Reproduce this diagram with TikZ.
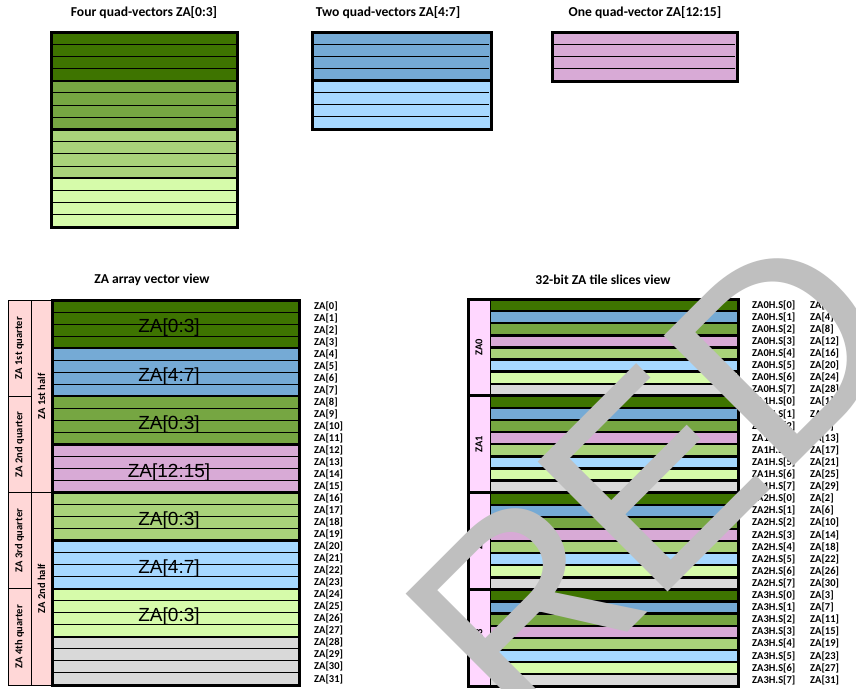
\documentclass[tikz,border=0pt]{standalone}
\usepackage{fontspec}
\setmainfont{Carlito}
\newfontfamily\bigfont{Liberation Sans}
\newfontfamily\wmfont{Liberation Sans}
\definecolor{cDG}{RGB}{62,116,0}
\definecolor{cBL}{RGB}{117,170,213}
\definecolor{cMG}{RGB}{118,166,66}
\definecolor{cPK}{RGB}{216,170,214}
\definecolor{cLG}{RGB}{169,210,122}
\definecolor{cLB}{RGB}{166,216,255}
\definecolor{cPG}{RGB}{214,251,170}
\definecolor{cGR}{RGB}{217,217,217}
\definecolor{cQP}{RGB}{255,215,215}
\definecolor{cTP}{RGB}{255,215,255}
\definecolor{cWM}{RGB}{191,191,191}
\tikzset{
  ttl/.style={font=\fontsize{13.6}{15}\selectfont\bfseries, inner sep=0pt},
  lbl/.style={font=\fontsize{10.5}{12}\selectfont\bfseries, inner sep=0pt, anchor=west},
  vlbl/.style={font=\fontsize{10.5}{12}\selectfont\bfseries, inner sep=0pt, rotate=90},
  biglbl/.style={font=\bigfont\fontsize{19}{22}\selectfont, inner sep=0pt},
  rowline/.style={line width=1pt},
  grpline/.style={line width=2.4pt},
  border/.style={line width=3pt},
  slsep/.style={line width=2.4pt},
  colline/.style={line width=1pt},
  wmark/.style={font=\wmfont\fontsize{267}{267}\selectfont, text=cWM, rotate=45, anchor=base west, inner sep=0pt},
}
\begin{document}
\begin{tikzpicture}[x=1pt,y=-1pt]
\useasboundingbox (0,0) rectangle (856,688);
\fill[white] (0,0) rectangle (856,688);

% ---------- titles top ----------
\node[ttl] (t1) at (144,13) {Four quad-vectors ZA[0:3]};
\node[ttl] (t2) at (388,13) {Two quad-vectors ZA[4:7]};
\node[ttl] (t3) at (645,13) {One quad-vector ZA[12:15]};

% ---------- box 1 ----------
\def\hA{12.1875}
\foreach \c [count=\i from 0] in {cDG,cMG,cLG,cPG}
  \fill[\c] (51,{32+\i*4*\hA}) rectangle (237,{32+(\i+1)*4*\hA});
\foreach \r in {1,2,3,5,6,7,9,10,11,13,14,15}
  \draw[rowline] (51,{32+\r*\hA}) -- (237,{32+\r*\hA});
\foreach \r in {4,8,12}
  \draw[grpline] (51,{32+\r*\hA}) -- (237,{32+\r*\hA});
\draw[border] (51,32) rectangle (237,227);

% ---------- box 2 ----------
\def\hB{12.125}
\foreach \c [count=\i from 0] in {cBL,cLB}
  \fill[\c] (312,{32+\i*4*\hB}) rectangle (491,{32+(\i+1)*4*\hB});
\foreach \r in {1,2,3,5,6,7}
  \draw[rowline] (312,{32+\r*\hB}) -- (489,{32+\r*\hB});
\draw[grpline] (312,{32+4*\hB}) -- (491,{32+4*\hB});
\draw[border] (312,32) rectangle (491,129);

% ---------- box 3 ----------
\def\hC{12.25}
\fill[cPK] (552,32) rectangle (737,81);
\foreach \r in {1,2,3}
  \draw[rowline] (552,{32+\r*\hC}) -- (735,{32+\r*\hC});
\draw[border] (552,32) rectangle (737,81);

% ---------- ZA array vector view ----------
\node[ttl] (t4) at (152,280) {ZA array vector view};
\def\hV{12.03}
\fill[cQP] (8,300) rectangle (52,685);
\draw[colline] (8,300) rectangle (31,685);
\draw[colline] (31,300) rectangle (52,685);
\foreach \q in {1,2,3}
  \draw[colline] (8,{300+\q*8*\hV}) -- (31,{300+\q*8*\hV});
\draw[colline] (31,{300+16*\hV}) -- (52,{300+16*\hV});
\node[vlbl] (q1) at (19.5,{300+4*\hV}) {ZA 1st quarter};
\node[vlbl] (q2) at (19.5,{300+12*\hV}) {ZA 2nd quarter};
\node[vlbl] (q3) at (19.5,{300+20*\hV}) {ZA 3rd quarter};
\node[vlbl] (q4) at (19.5,{300+28*\hV}) {ZA 4th quarter};
\node[vlbl] (h1) at (41.5,{300+8*\hV}) {ZA 1st half};
\node[vlbl] (h2) at (41.5,{300+24*\hV}) {ZA 2nd half};
\foreach \c [count=\i from 0] in {cDG,cBL,cMG,cPK,cLG,cLB,cPG,cGR}
  \fill[\c] (52,{300+\i*4*\hV}) rectangle (299,{300+(\i+1)*4*\hV});
\foreach \r in {1,...,31}{
  \pgfmathtruncatemacro{\m}{mod(\r,4)}
  \ifnum\m=0
    \draw[grpline] (52,{300+\r*\hV}) -- (299,{300+\r*\hV});
  \else
    \draw[rowline] (52,{300+\r*\hV}) -- (299,{300+\r*\hV});
  \fi
}
\draw[border] (52,300) rectangle (299,685);
\foreach \t [count=\i from 0] in {ZA[0:3],ZA[4:7],ZA[0:3],ZA[12:15],ZA[0:3],ZA[4:7],ZA[0:3]}
  \node[biglbl] (bl\i) at (169,{300+(\i*4+2)*\hV+4}) {\t};
\foreach \r in {0,...,31}
  \node[lbl] (va\r) at (314,{300+(\r+0.5)*\hV}) {ZA[\r]};

% ---------- 32-bit ZA tile slices view ----------
\node[ttl] (t5) at (603,280) {32-bit ZA tile slices view};
\def\hS{12.1}
\fill[cTP] (468,299) rectangle (490,686);
\foreach \k in {0,...,3}{
  \foreach \c [count=\i from 0] in {cDG,cBL,cMG,cPK,cLG,cLB,cPG,cGR}
    \fill[\c] (490,{299+(\k*8+\i)*\hS}) rectangle (738,{299+(\k*8+\i+1)*\hS});
}
\foreach \r in {1,...,31}
  \draw[slsep] (490,{299+\r*\hS}) -- (738,{299+\r*\hS});
\draw[colline] (490,299) -- (490,686);
\foreach \k in {1,2,3}
  \draw[border] (468,{299+\k*8*\hS}) -- (738,{299+\k*8*\hS});
\draw[border] (468,299) rectangle (738,686);
\foreach \k in {0,...,3}
  \node[vlbl] (za\k) at (479,{299+(\k*8+4)*\hS}) {ZA\k};
\foreach \k in {0,...,3}{
  \foreach \s in {0,...,7}{
    \pgfmathtruncatemacro{\n}{4*\s+\k}
    \node[lbl] (sa\k\s) at (752,{299+(\k*8+\s+0.5)*\hS}) {ZA\k H.S[\s]};
    \node[lbl] (sb\k\s) at (810,{299+(\k*8+\s+0.5)*\hS}) {ZA[\n]};
  }
}

% ---------- watermark ----------
\begin{scope}
\clip (0,0) rectangle (856,688);
\node[wmark] (wmR) at (520,740) {R};
\node[wmark] (wmE) at (652,608) {E};
\node[wmark] (wmD) at (777.9,482.1) {D};
\end{scope}
\end{tikzpicture}
\end{document}
